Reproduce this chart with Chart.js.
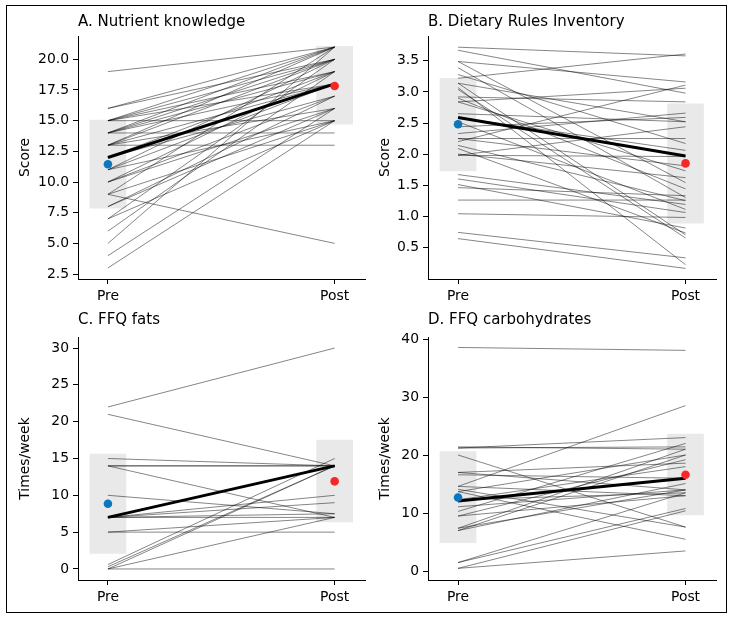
<!DOCTYPE html>
<html><head><meta charset="utf-8">
<script src="https://cdn.jsdelivr.net/npm/chart.js@4.4.1/dist/chart.umd.min.js"></script>
<style>
html,body{margin:0;padding:0;background:#fff;}
body{width:732px;height:619px;position:relative;overflow:hidden;}
#frame{position:absolute;left:6px;top:5px;width:721px;height:608px;border:1px solid #000;box-sizing:border-box;}
canvas{position:absolute;}
</style></head><body>
<div id="frame"></div>
<canvas id="cA" width="362" height="301" style="left:8px;top:8px;width:362px;height:301px"></canvas>
<canvas id="cB" width="363" height="301" style="left:358px;top:8px;width:363px;height:301px"></canvas>
<canvas id="cC" width="362" height="301" style="left:8px;top:309px;width:362px;height:301px"></canvas>
<canvas id="cD" width="363" height="301" style="left:358px;top:309px;width:363px;height:301px"></canvas>
<script>
// ---- data ----
const timeLabels = ['Pre', 'Post'];

// A. Nutrient knowledge
const nkPre  = [19,16,16,15,15,15,15,15,14,14,14,14,13,14,13,13,13,13,12,12,12,11,11,11,10,10,10,9,9,9,8,8,7,7,6,5,4,3];
const nkPost = [21,21,20,21,20,19,18,15,21,20,19,18,13,14,21,20,18,16,19,18,17,20,18,15,19,17,16,5,21,15,17,16,20,15,19,21,16,15];
const nkMean = [11.45, 17.83];
const nkMedian = [12, 18];
const nkBandPre = [7.87, 15.05];
const nkBandPost = [14.72, 21.05];
const nkTicks = [2.5,5,7.5,10,12.5,15,17.5,20];
const nkTickLabels = ['2.5','5.0','7.5','10.0','12.5','15.0','17.5','20.0'];

// B. Dietary Rules Inventory
const driPre  = [3.72,3.67,3.49,3.49,3.39,3.28,3.22,3.14,3.07,3.04,2.92,2.90,2.84,2.84,2.65,2.59,2.52,2.44,2.33,2.25,2.20,2.14,2.09,2.00,1.98,1.67,1.60,1.51,1.46,1.26,1.04,0.74,0.64,2.25,1.98,3.14];
const driPost = [3.58,2.98,3.16,1.54,1.30,2.17,3.61,0.70,0.22,0.65,2.84,1.44,3.06,1.73,2.52,2.06,1.11,2.59,2.66,1.81,3.11,1.25,0.73,1.62,2.44,1.19,1.06,0.81,1.33,1.26,0.98,0.33,0.16,2.25,1.96,2.52];
const driMean = [2.48, 1.85];
const driMedian = [2.59, 1.97];
const driBandPre = [1.73, 3.22];
const driBandPost = [0.89, 2.81];
const driTicks = [0.5,1,1.5,2,2.5,3,3.5];
const driTickLabels = ['0.5','1.0','1.5','2.0','2.5','3.0','3.5'];

// C. FFQ fats
const fatPre  = [22,21,15,14,14,14,10,7,7,7,7,7,7,5,5,0,0.3,0.6,0,0];
const fatPost = [30,14,14,14,14,7,7.5,14,14,7,7.5,9,10,5,7,14,14,15,7,0];
const fatMean = [8.85, 11.9];
const fatMedian = [7, 14];
const fatBandPre = [2.1, 15.6];
const fatBandPost = [6.4, 17.5];
const fatTicks = [0,5,10,15,20,25,30];
const fatTickLabels = ['0','5','10','15','20','25','30'];

// D. FFQ carbohydrates
const carbPre  = [38.6,21.5,21.3,21.3,20.1,17.1,17.1,16.7,14.7,14.7,14.2,13.8,13.8,12.4,12.4,11.2,10.4,9.6,9.6,7.5,7.1,7.1,7.5,1.6,0.6,0.6,1.6];
const carbPost = [38.1,21.1,23.1,21.5,7.7,18.7,14.1,16.1,28.6,13.1,7.7,5.6,20.1,18.1,13.6,14.1,22.1,19.3,13.1,21.1,20.1,15.2,14.1,10.9,10.5,3.6,13.6];
const carbMean = [12.8, 16.7];
const carbMedian = [12.2, 16.1];
const carbBandPre = [5.0, 20.7];
const carbBandPost = [9.8, 23.7];
const carbTicks = [0,10,20,30,40];
const carbTickLabels = ['0','10','20','30','40'];

// ---- drawing ----
const FONT = 'DejaVu Sans';
Chart.defaults.color = '#000';
Chart.defaults.font.family = FONT;

function makePanel(id, p) {
  const ds = [];
  ds.push({type:'bar', data:[{x:0,y:p.bandPre},{x:1,y:p.bandPost}],
    backgroundColor:'#e9e9e9', borderWidth:0, barThickness:36, grouped:false, order:10});
  p.pre.forEach((v,i) => ds.push({type:'line', data:[{x:0,y:v},{x:1,y:p.post[i]}],
    borderColor:'rgba(0,0,0,0.48)', borderWidth:1, pointRadius:0, order:5}));
  ds.push({type:'line', data:[{x:0,y:p.median[0]},{x:1,y:p.median[1]}],
    borderColor:'#000', borderWidth:3, pointRadius:0, order:2});
  ds.push({type:'line', data:[{x:0,y:p.mean[0]},{x:1,y:p.mean[1]}], showLine:false,
    pointRadius:4.3, pointBackgroundColor:['#0a77be','#f52828'], pointBorderWidth:0, order:1});

  const gridOpts = () => ({display:true, offset:false, drawOnChartArea:false, drawTicks:true,
    tickLength:5, color:'#000', lineWidth:1});
  const borderOpts = () => ({display:true, color:'#000', width:1});
  new Chart(document.getElementById(id), {
    type:'line',
    data:{datasets:ds},
    options:{
      responsive:false, animation:false, events:[],
      layout:{padding:{left:0, right:4, top:0, bottom:0}},
      plugins:{
        legend:{display:false}, tooltip:{enabled:false},
        title:{display:true, text:p.title, align:'start', fullSize:false, color:'#000',
          font:{family:FONT, size:15, weight:'normal', lineHeight:1.2},
          padding:{top:p.titlePad, bottom:10 - p.titlePad}}
      },
      scales:{
        x:{type:'linear', min:-0.132, max:1.137, offset:false,
          grid:gridOpts(), border:borderOpts(),
          ticks:{padding:4, autoSkip:false, maxRotation:0, font:{family:FONT, size:13.9}, color:'#000',
            callback:(v) => timeLabels[v] !== undefined ? timeLabels[v] : ''},
          afterBuildTicks:(s) => { s.ticks = timeLabels.map((_, i) => ({value:i})); },
          afterFit:(s) => { s.height = 30; }
        },
        y:{type:'linear', min:p.min, max:p.max,
          grid:gridOpts(), border:borderOpts(),
          ticks:{padding:4, autoSkip:false, font:{family:FONT, size:13.9}, color:'#000',
            callback:(v, i) => p.tickLabels[i]},
          afterBuildTicks:(s) => { s.ticks = p.ticks.map(v => ({value:v})); },
          afterFit:(s) => { s.width = 70; },
          title:{display:true, text:p.yTitle, color:'#000', font:{family:FONT, size:13.9},
            padding:{top:p.yTitlePad, bottom:0}}
        }
      }
    }
  });
}

makePanel('cA', {title:'A. Nutrient knowledge', yTitle:'Score', pre:nkPre, post:nkPost, mean:nkMean,
  median:nkMedian, bandPre:nkBandPre, bandPost:nkBandPost, ticks:nkTicks, tickLabels:nkTickLabels,
  min:2.1, max:21.9, titlePad:5.5, yTitlePad:8.6});
makePanel('cB', {title:'B. Dietary Rules Inventory', yTitle:'Score', pre:driPre, post:driPost, mean:driMean,
  median:driMedian, bandPre:driBandPre, bandPost:driBandPost, ticks:driTicks, tickLabels:driTickLabels,
  min:-0.01, max:3.90, titlePad:5.5, yTitlePad:19});
makePanel('cC', {title:'C. FFQ fats', yTitle:'Times/week', pre:fatPre, post:fatPost, mean:fatMean,
  median:fatMedian, bandPre:fatBandPre, bandPost:fatBandPost, ticks:fatTicks, tickLabels:fatTickLabels,
  min:-1.5, max:31.5, titlePad:2, yTitlePad:8.6});
makePanel('cD', {title:'D. FFQ carbohydrates', yTitle:'Times/week', pre:carbPre, post:carbPost, mean:carbMean,
  median:carbMedian, bandPre:carbBandPre, bandPost:carbBandPost, ticks:carbTicks, tickLabels:carbTickLabels,
  min:-1.4, max:40.4, titlePad:2, yTitlePad:19});
</script>
</body></html>
